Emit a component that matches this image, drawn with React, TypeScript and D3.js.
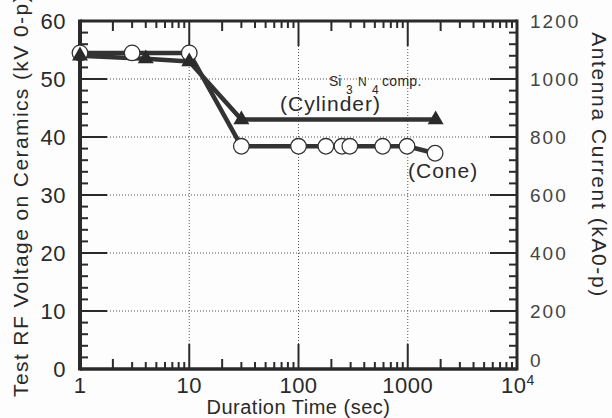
import React, { useEffect, useRef } from 'react';
import * as d3 from 'd3';

// cylinder (filled triangles)
const cylinderTime = [1, 4, 10, 30, 1800];
const cylinderVolt = [54, 53.5, 53, 43, 43];

// cone (open circles)
const coneTime = [1, 3, 10, 30, 100, 178, 250, 295, 590, 985, 1780];
const coneVolt = [54.5, 54.5, 54.5, 38.4, 38.4, 38.4, 38.4, 38.4, 38.4, 38.4, 37.2];

const voltTicks = [0, 10, 20, 30, 40, 50, 60];
const currentTicks = [0, 200, 400, 600, 800, 1000, 1200];
const timeTicks = [1, 10, 100, 1000, 10000];
const timeLabels = ['1', '10', '100', '1000', '10'];

const FONT = "'Liberation Sans', Arial, Helvetica, sans-serif";
const INK = '#2a2a2a';

function App() {
  const ref = useRef<SVGSVGElement | null>(null);
  const width = 612;
  const height = 418;
  const margin = { top: 21, right: 95, bottom: 49, left: 80 };

  useEffect(() => {
    drawChart();
  }, []);

  function drawChart() {
    const svg = d3.select(ref.current);
    svg.selectAll('*').remove();

    const x = d3.scaleLog().domain([1, 10000]).range([margin.left, width - margin.right]);
    const y = d3.scaleLinear().domain([0, 60]).range([height - margin.bottom, margin.top]);
    const yR = d3.scaleLinear().domain([0, 1200]).range([height - margin.bottom, margin.top]);

    const x0 = x.range()[0];
    const x1 = x.range()[1];
    const yb = y.range()[0];
    const yt = y.range()[1];

    svg.append('rect').attr('width', width).attr('height', height).attr('fill', '#fdfdfd');

    // dotted grid
    const grid = svg.append('g').attr('stroke', '#555').attr('stroke-width', 1).attr('stroke-dasharray', '1,2');
    [10, 20, 30, 40, 50].forEach((v) => {
      grid.append('line').attr('x1', x0 + 27).attr('x2', x1 - 27).attr('y1', y(v)).attr('y2', y(v));
    });
    [10, 100, 1000].forEach((t) => {
      grid.append('line').attr('x1', x(t)).attr('x2', x(t)).attr('y1', yt + 25).attr('y2', yb - 25);
    });

    // ticks
    const ticks = svg.append('g').attr('stroke', INK).attr('stroke-width', 2);
    d3.range(2, 60, 2).forEach((v) => {
      const major = v % 10 === 0;
      const len = major ? 27 : 8;
      ticks.append('line').attr('x1', x0).attr('x2', x0 + len).attr('y1', y(v)).attr('y2', y(v));
      ticks.append('line').attr('x1', x1).attr('x2', x1 - len).attr('y1', y(v)).attr('y2', y(v));
    });
    [1, 10, 100, 1000].forEach((dec) => {
      d3.range(2, 10).forEach((m) => {
        const t = dec * m;
        const len = m === 2 ? 10 : 7;
        ticks.append('line').attr('x1', x(t)).attr('x2', x(t)).attr('y1', yb).attr('y2', yb - len);
        ticks.append('line').attr('x1', x(t)).attr('x2', x(t)).attr('y1', yt).attr('y2', yt + len);
      });
      if (dec > 1) {
        ticks.append('line').attr('x1', x(dec)).attr('x2', x(dec)).attr('y1', yb).attr('y2', yb - 25);
        ticks.append('line').attr('x1', x(dec)).attr('x2', x(dec)).attr('y1', yt).attr('y2', yt + 25);
      }
    });

    // frame
    svg.append('line').attr('x1', x0).attr('x2', x0).attr('y1', yt - 1.5).attr('y2', yb + 1.5)
      .attr('stroke', INK).attr('stroke-width', 4);
    svg.append('line').attr('x1', x0).attr('x2', x1).attr('y1', yb).attr('y2', yb)
      .attr('stroke', INK).attr('stroke-width', 3.5);
    svg.append('line').attr('x1', x0).attr('x2', x1).attr('y1', yt).attr('y2', yt)
      .attr('stroke', INK).attr('stroke-width', 3);
    svg.append('line').attr('x1', x1).attr('x2', x1).attr('y1', yt - 1.5).attr('y2', yb + 1.5)
      .attr('stroke', INK).attr('stroke-width', 3);

    // left tick labels
    svg.append('g').selectAll('text').data(voltTicks).enter().append('text')
      .attr('x', 66).attr('y', (d) => y(d)).attr('dy', '0.36em')
      .attr('text-anchor', 'end').style('font-family', FONT).style('font-size', '22px')
      .style('letter-spacing', '0.5px').attr('fill', INK).text((d) => d);

    // right tick labels
    svg.append('g').selectAll('text').data(currentTicks).enter().append('text')
      .attr('x', 530).attr('y', (d) => yR(d) - (d === 0 ? 9 : 0)).attr('dy', '0.36em')
      .style('font-family', FONT).style('font-size', '19px').style('letter-spacing', '2px')
      .attr('fill', '#444').text((d) => d);

    // bottom tick labels
    const bl = svg.append('g').selectAll('text').data(timeTicks).enter().append('text')
      .attr('x', (d) => x(d) + (d === 10000 ? 1 : 0)).attr('y', 393)
      .attr('text-anchor', 'middle').style('font-family', FONT).style('font-size', '22px')
      .style('letter-spacing', '0.5px').attr('fill', INK);
    bl.append('tspan').text((_, i) => timeLabels[i]);
    bl.filter((d) => d === 10000).append('tspan')
      .attr('dy', -8).style('font-size', '14px').text('4');

    // axis titles
    svg.append('text').attr('x', x(100)).attr('y', 414).attr('text-anchor', 'middle')
      .style('font-family', FONT).style('font-size', '20px').style('letter-spacing', '0.5px')
      .attr('fill', INK).text('Duration Time (sec)');
    svg.append('text').attr('transform', 'translate(28,397) rotate(-90)')
      .style('font-family', FONT).style('font-size', '21px').style('letter-spacing', '1.4px')
      .attr('fill', INK).text('Test RF Voltage on Ceramics (kV 0-p)');
    svg.append('text').attr('transform', 'translate(592,165) rotate(90)').attr('text-anchor', 'middle')
      .style('font-family', FONT).style('font-size', '21px').style('letter-spacing', '1.6px')
      .attr('fill', INK).text('Antenna Current (kA0-p)');

    // lines
    const line = d3.line<[number, number]>().x((d) => x(d[0])).y((d) => y(d[1]));
    const cyl: [number, number][] = cylinderTime.map((t, i) => [t, cylinderVolt[i]]);
    const cone: [number, number][] = coneTime.map((t, i) => [t, coneVolt[i]]);

    svg.append('path').attr('d', line(cyl)).attr('fill', 'none')
      .attr('stroke', '#333').attr('stroke-width', 4.5).attr('stroke-linejoin', 'round');
    svg.append('path').attr('d', line(cone)).attr('fill', 'none')
      .attr('stroke', '#333').attr('stroke-width', 4.5).attr('stroke-linejoin', 'round');

    // markers
    svg.append('g').selectAll('circle').data(cone).enter().append('circle')
      .attr('cx', (d) => x(d[0])).attr('cy', (d) => y(d[1])).attr('r', 7.8)
      .attr('fill', '#fff').attr('stroke', '#333').attr('stroke-width', 1.3);

    const tri = d3.symbol().type(d3.symbolTriangle).size(110);
    svg.append('g').selectAll('path').data(cyl).enter().append('path')
      .attr('d', tri).attr('transform', (d) => `translate(${x(d[0])},${y(d[1])})`)
      .attr('fill', '#2a2a2a');

    // annotations: Si3N4 comp.
    const ann = svg.append('g').style('font-family', FONT).attr('fill', INK);
    ann.append('text').attr('x', 329).attr('y', 86).style('font-size', '14px').text('Si');
    ann.append('text').attr('x', 346).attr('y', 94).style('font-size', '12px').text('3');
    ann.append('text').attr('x', 358).attr('y', 86).style('font-size', '12px').text('N');
    ann.append('text').attr('x', 372).attr('y', 94).style('font-size', '12px').text('4');
    ann.append('text').attr('x', 382).attr('y', 86).style('font-size', '14px')
      .style('letter-spacing', '0.3px').text('comp.');

    ann.append('text').attr('x', 280).attr('y', 111)
      .style('font-size', '21px').style('letter-spacing', '1px').text('(Cylinder)');
    ann.append('text').attr('x', 408).attr('y', 178)
      .style('font-size', '21px').style('letter-spacing', '1px').text('(Cone)');
  }

  return (
    <svg ref={ref} width={width} height={height}
      style={{ position: 'absolute', left: 0, top: 0, display: 'block' }} />
  );
}

export default App;
